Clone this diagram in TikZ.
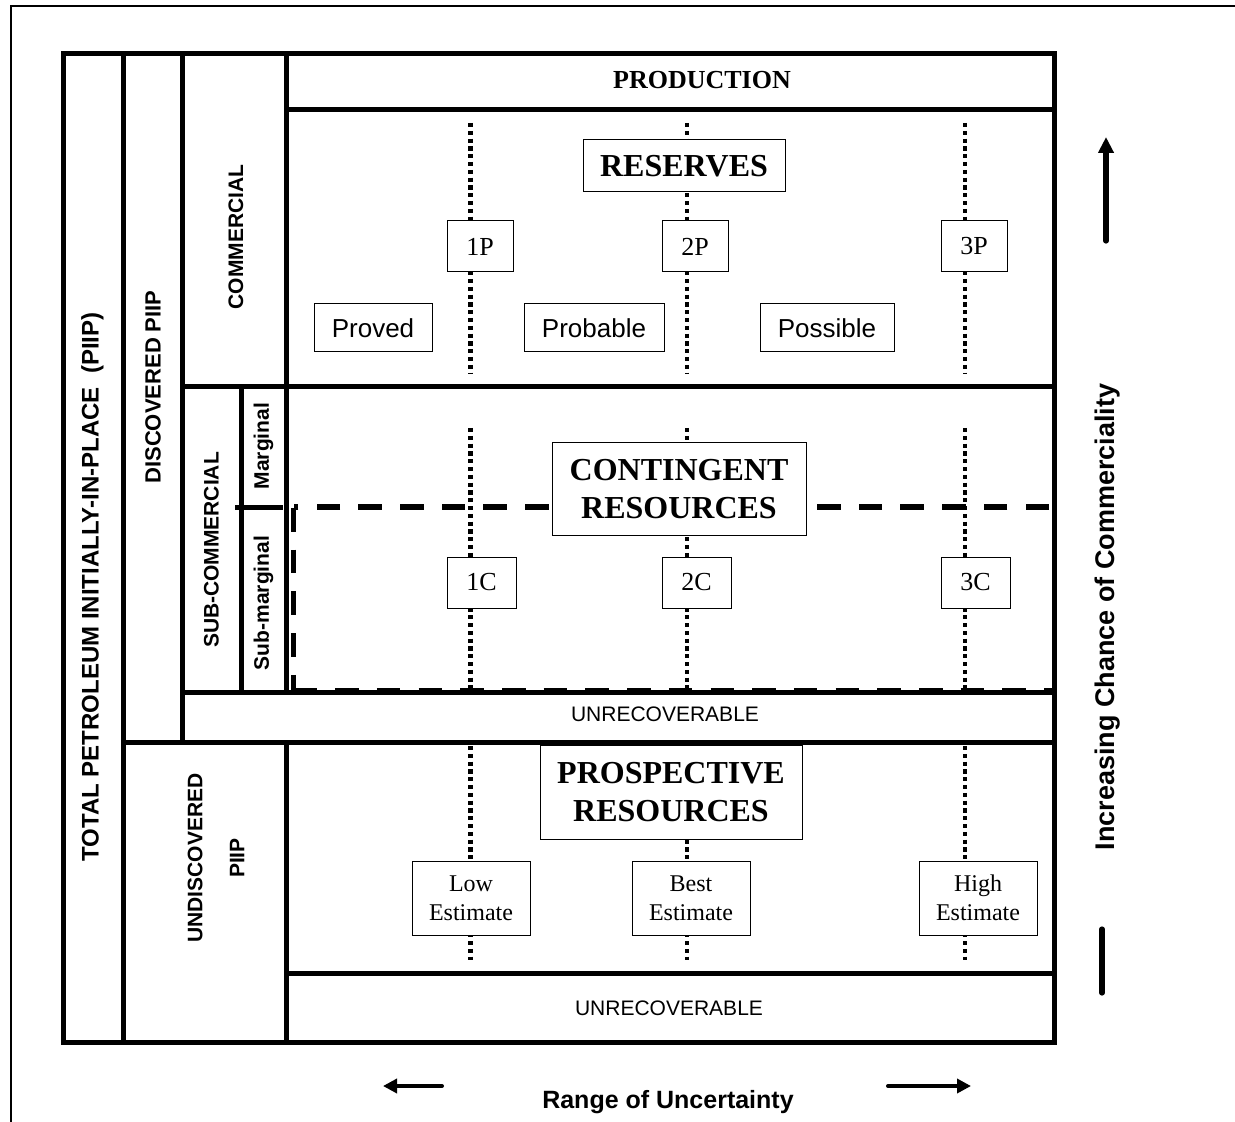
\documentclass[tikz,border=0pt]{standalone}
\usepackage{fontspec}
\setmainfont{Liberation Serif}
\setsansfont{Liberation Sans}
\usetikzlibrary{arrows.meta}
\tikzset{
  frame/.style={line width=2.5pt},
  thinframe/.style={line width=1pt},
  dotline/.style={line width=2.3pt, dash pattern=on 2.1pt off 1.8pt},
  dashline/.style={line width=2.6pt, dash pattern=on 11.75pt off 9.1pt},
  box/.style={draw, fill=white, line width=0.5pt, inner sep=0pt, align=center},
  bigbox/.style={box, font={\fontsize{16}{19}\selectfont\bfseries}},
  pbox/.style={box, minimum width=33pt, minimum height=25.5pt, font={\fontsize{13}{15}\selectfont}},
  cbox/.style={box, minimum width=34.5pt, minimum height=25.5pt, font={\fontsize{13}{15}\selectfont}},
  ebox/.style={box, minimum width=59pt, minimum height=37pt, font={\fontsize{12}{14.5}\selectfont}},
  sbox/.style={box, minimum height=24pt, font={\sffamily\fontsize{13}{15}\selectfont}},
  vlabel/.style={rotate=90, font={\sffamily\bfseries\fontsize{10.5}{12.5}\selectfont}, align=center},
  arrowline/.style={line width=2.6pt, line cap=round},
}
\begin{document}
\begin{tikzpicture}[x=0.5pt,y=-0.5pt]
\useasboundingbox (0,0) rectangle (1235,1122);
% outer thin frame
\draw[thinframe] (11,1122) -- (11,6) -- (1235,6);

% dotted lines
\foreach \xx in {470.7,687,965}{
  \draw[dotline] (\xx,123) -- (\xx,374);
  \draw[dotline] (\xx,428) -- (\xx,688);
  \draw[dotline] (\xx,746) -- (\xx,960);
}
% dashed marginal boundary
\draw[dashline] (1049,507) -- (293.5,507);
\draw[dashline] (293.5,508) -- (293.5,690);
\draw[dashline] (293.5,690.5) -- (1052,690.5);

% main frame
\draw[frame] (63.5,53.5) rectangle (1054.5,1042);
\draw[frame] (123,53.5) -- (123,1042);
\draw[frame] (182,53.5) -- (182,742);
\draw[frame] (286,53.5) -- (286,692);
\draw[frame] (286,742) -- (286,1042);
\draw[frame] (241,387) -- (241,692);
\draw[frame] (286,109.5) -- (1054.5,109.5);
\draw[frame] (182,387) -- (1054.5,387);
\draw[frame] (182,692) -- (1054.5,692);
\draw[frame] (123,742) -- (1054.5,742);
\draw[frame] (286,973) -- (1054.5,973);
\draw[frame] (235,507) -- (283,507);

% row labels
\node[font={\bfseries\fontsize{13}{15}\selectfont}] (prod) at (702,80) {PRODUCTION};
\node[font={\sffamily\fontsize{10.5}{12.5}\selectfont}] (unrec1) at (665,714) {UNRECOVERABLE};
\node[font={\sffamily\fontsize{10.5}{12.5}\selectfont}] (unrec2) at (669,1008) {UNRECOVERABLE};

% column labels
\node[vlabel, font={\sffamily\bfseries\fontsize{12}{14}\selectfont}] (tot) at (92.5,587) {TOTAL PETROLEUM INITIALLY-IN-PLACE \ (PIIP)};
\node[vlabel, font={\sffamily\bfseries\fontsize{11}{13}\selectfont}] (disc) at (153,387) {DISCOVERED PIIP};
\node[vlabel] (comm) at (236,237) {COMMERCIAL};
\node[vlabel] (subc) at (211.5,550) {SUB-COMMERCIAL};
\node[vlabel] (marg) at (263.5,446) {Marginal};
\node[vlabel] (subm) at (263.5,603) {Sub-marginal};
\node[vlabel, font={\sffamily\bfseries\fontsize{10.5}{21}\selectfont}] (undisc) at (216,858) {UNDISCOVERED\\PIIP};

% reserves
\node[bigbox, minimum width=101pt, minimum height=26pt] (res) at (684,166) {RESERVES};
\node[pbox] (p1) at (480,246.5) {1P};
\node[pbox] (p2) at (695,246.5) {2P};
\node[pbox] (p3) at (974,246.5) {3P};
\node[sbox, minimum width=59pt] (proved) at (373,328) {Proved};
\node[sbox, minimum width=70pt] (probable) at (594,328) {Probable};
\node[sbox, minimum width=67pt] (possible) at (827,328) {Possible};

% contingent
\node[bigbox, minimum width=127pt, minimum height=46pt] (cont) at (679,489) {CONTINGENT\\RESOURCES};
\node[cbox] (c1) at (481.5,582.5) {1C};
\node[cbox] (c2) at (696.5,582.5) {2C};
\node[cbox] (c3) at (975.5,582.5) {3C};

% prospective
\node[bigbox, minimum width=131pt, minimum height=47pt] (pros) at (671,792) {PROSPECTIVE\\RESOURCES};
\node[ebox] (low) at (471,898) {Low\\Estimate};
\node[ebox] (best) at (691,898) {Best\\Estimate};
\node[ebox] (high) at (978,898) {High\\Estimate};

% right axis
\coordinate (upS) at (1106,241);
\coordinate (upE) at (1106,137);
\coordinate (barT) at (1102,929);
\coordinate (barB) at (1102,993);
\draw[arrowline, -{Triangle[width=7.5pt,length=8pt]}] (upS) -- (upE);
\draw[arrowline] (barT) -- (barB);
\node[rotate=90, font={\sffamily\bfseries\fontsize{13.5}{16}\selectfont}] (incr) at (1108,617) {Increasing Chance of Commerciality};

% bottom axis
\coordinate (lS) at (442,1086);
\coordinate (lE) at (383,1086);
\coordinate (rS) at (888,1086);
\coordinate (rE) at (971,1086);
\draw[line width=2pt, line cap=round, -{Triangle[width=7pt,length=7pt]}] (lS) -- (lE);
\draw[line width=2pt, line cap=round, -{Triangle[width=7pt,length=7pt]}] (rS) -- (rE);
\node[font={\sffamily\bfseries\fontsize{12.5}{15}\selectfont}] (range) at (668,1102) {Range of Uncertainty};
\end{tikzpicture}
\end{document}
